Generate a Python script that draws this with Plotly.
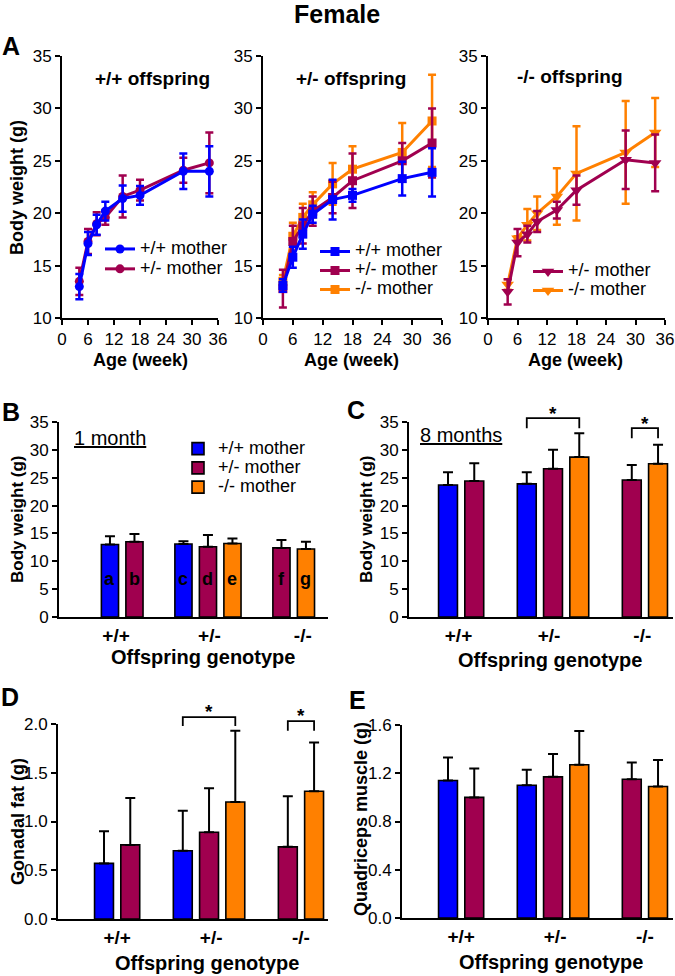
import plotly.graph_objects as go

W, H = 675, 976
FONT = "Liberation Sans, Arial, Helvetica, sans-serif"
BLUE, PURPLE, ORANGE = "#0000FF", "#A0004F", "#FF8000"

# ---------------- Panel A data (body weight over age) ----------------
weeks = [4, 6, 8, 10, 14, 18, 28, 34]

a1_wt_mean = [13.0, 17.1, 18.9, 20.2, 21.4, 21.7, 24.0, 24.0]
a1_wt_err = [1.2, 1.1, 0.95, 0.9, 1.25, 0.9, 1.7, 2.4]
a1_het_mean = [13.5, 17.3, 19.0, 19.6, 21.6, 22.2, 24.1, 24.8]
a1_het_err = [1.3, 1.2, 1.1, 0.7, 2.0, 1.0, 1.2, 2.9]

a2_wt_mean = [13.1, 15.8, 18.0, 19.9, 21.3, 21.7, 23.3, 23.9]
a2_wt_err = [0.6, 1.0, 1.4, 0.8, 1.9, 0.6, 1.6, 2.3]
a2_het_mean = [12.8, 17.3, 18.8, 20.2, 21.5, 23.1, 25.0, 26.7]
a2_het_err = [1.8, 1.5, 1.7, 1.4, 1.5, 2.6, 1.7, 3.3]
a2_ko_mean = [13.5, 17.8, 19.6, 20.8, 22.8, 24.2, 25.8, 28.8]
a2_ko_err = [0.6, 1.3, 1.3, 1.2, 2.0, 2.2, 2.8, 4.4]

a3_het_mean = [12.5, 17.2, 18.0, 19.2, 20.3, 22.2, 25.1, 24.8]
a3_het_err = [1.2, 1.3, 0.8, 1.0, 0.8, 1.4, 2.8, 2.7]
a3_ko_mean = [13.2, 17.6, 18.9, 20.0, 21.6, 23.8, 25.8, 27.7]
a3_ko_err = [0.5, 0.2, 1.5, 1.6, 2.7, 4.5, 4.9, 3.3]

age_ticks = [0, 6, 12, 18, 24, 30, 36]

# ---------------- Bar panels (B-E) ----------------
genotypes = ["+/+", "+/-", "-/-"]
mother_names = ["+/+ mother", "+/- mother", "-/- mother"]

# B: body weight at 1 month
b_wt_mean = [13.0, 13.1, None]
b_wt_err = [1.5, 0.5, None]
b_het_mean = [13.5, 12.6, 12.4]
b_het_err = [1.4, 2.1, 1.4]
b_ko_mean = [None, 13.2, 12.2]
b_ko_err = [None, 0.9, 1.3]
b_wt_letters = ["a", "c", None]
b_het_letters = ["b", "d", "f"]
b_ko_letters = [None, "e", "g"]

# C: body weight at 8 months
c_wt_mean = [23.7, 23.9, None]
c_wt_err = [2.3, 2.1, None]
c_het_mean = [24.4, 26.6, 24.6]
c_het_err = [3.2, 3.4, 2.7]
c_ko_mean = [None, 28.7, 27.5]
c_ko_err = [None, 4.3, 3.4]

# D: gonadal fat
d_wt_mean = [0.57, 0.70, None]
d_wt_err = [0.33, 0.41, None]
d_het_mean = [0.76, 0.89, 0.74]
d_het_err = [0.48, 0.45, 0.52]
d_ko_mean = [None, 1.20, 1.31]
d_ko_err = [None, 0.73, 0.50]

# E: quadriceps muscle
e_wt_mean = [1.14, 1.10, None]
e_wt_err = [0.19, 0.13, None]
e_het_mean = [1.00, 1.17, 1.15]
e_het_err = [0.24, 0.19, 0.14]
e_ko_mean = [None, 1.27, 1.09]
e_ko_err = [None, 0.28, 0.22]

# significance comparisons: (genotype index, mother index a, mother index b)
sig_pairs = [(1, 0, 2), (2, 1, 2)]

# ---------------- helpers ----------------
def dx(x0, x1):
    return [x0 / W, x1 / W]

def dy(ytop, ybot):
    return [1 - ybot / H, 1 - ytop / H]

def slot(g, m):
    return 1 + 3 * g + m

fig = go.Figure()
annotations = []
shapes = []

def ann(text, x, y, size, bold=False, angle=0, xanchor="center", yanchor="middle", **kw):
    annotations.append(dict(
        text=("<b>%s</b>" % text) if bold else text, x=x / W, y=1 - y / H,
        xref="paper", yref="paper", showarrow=False, textangle=angle,
        xanchor=xanchor, yanchor=yanchor,
        font=dict(family=FONT, size=size, color="black"), **kw))

def legname(name, size=18):
    return '<span style="font-size:%dpx">%s</span>' % (size, name)

# ---------------- Panel A line traces ----------------
a_sets = [
    ("x", "y", "legend", [(a1_het_mean, a1_het_err, PURPLE, 1), (a1_wt_mean, a1_wt_err, BLUE, 0)], "circle", 9),
    ("x2", "y2", "legend2", [(a2_ko_mean, a2_ko_err, ORANGE, 2), (a2_het_mean, a2_het_err, PURPLE, 1),
                            (a2_wt_mean, a2_wt_err, BLUE, 0)], "square", 9),
    ("x3", "y3", "legend3", [(a3_ko_mean, a3_ko_err, ORANGE, 2), (a3_het_mean, a3_het_err, PURPLE, 1)], "triangle-down", 11),
]
for xa, ya, leg, series, sym, msize in a_sets:
    for mean, err, col, mi in series:
        fig.add_trace(go.Scatter(
            x=weeks, y=mean, xaxis=xa, yaxis=ya, mode="lines+markers",
            name=legname(mother_names[mi]), legend=leg, legendrank=mi + 1,
            line=dict(color=col, width=3),
            marker=dict(symbol=sym, size=msize, color=col),
            error_y=dict(type="data", array=err, visible=True, color=col, thickness=2.5, width=4),
            hoverinfo="skip"))

# ---------------- Bar traces ----------------
bar_sets = [
    ("x4", "y4", [(b_wt_mean, b_wt_err), (b_het_mean, b_het_err), (b_ko_mean, b_ko_err)], 0.70, True),
    ("x5", "y5", [(c_wt_mean, c_wt_err), (c_het_mean, c_het_err), (c_ko_mean, c_ko_err)], 0.72, False),
    ("x6", "y6", [(d_wt_mean, d_wt_err), (d_het_mean, d_het_err), (d_ko_mean, d_ko_err)], 0.72, False),
    ("x7", "y7", [(e_wt_mean, e_wt_err), (e_het_mean, e_het_err), (e_ko_mean, e_ko_err)], 0.72, False),
]
colors = [BLUE, PURPLE, ORANGE]
for xa, ya, series, bw, showleg in bar_sets:
    for mi, (mean, err) in enumerate(series):
        xs = [slot(g, mi) for g in range(len(genotypes))]
        fig.add_trace(go.Bar(
            x=xs, y=mean, xaxis=xa, yaxis=ya, width=bw,
            name=legname(mother_names[mi]), legend="legend4", showlegend=showleg,
            marker=dict(color=colors[mi], line=dict(color="black", width=1.6)),
            error_y=dict(type="data", array=err, arrayminus=[0] * len(err), symmetric=False,
                         visible=True, color="black", thickness=2, width=5),
            hoverinfo="skip"))

# letters inside B bars
for mi, letters in enumerate([b_wt_letters, b_het_letters, b_ko_letters]):
    for g, lt in enumerate(letters):
        if lt:
            annotations.append(dict(text="<b>%s</b>" % lt, x=slot(g, mi), y=6.8, xref="x4", yref="y4",
                                    showarrow=False, font=dict(family=FONT, size=18, color="black")))

# significance brackets in C and D (y given in data units, placed via axis-domain fraction)
bracket_style = {
    ("x5", "y5", 35.0): [(35.7, 33.9, 38.8), (33.9, 32.1, 36.9)],
    ("x6", "y6", 2.0): [(2.07, 1.98, 2.26), (2.03, 1.93, 2.22)],
}
for (xa, ya, ymax), levels in bracket_style.items():
    for (g, ma, mb), (top, leg, star_y) in zip(sig_pairs, levels):
        x1, x2 = slot(g, ma), slot(g, mb)
        t, l = top / ymax, leg / ymax
        shapes.append(dict(type="path", xref=xa, yref=ya + " domain",
                           path="M %s,%s L %s,%s L %s,%s L %s,%s" % (x1, l, x1, t, x2, t, x2, l),
                           line=dict(color="black", width=1.8)))
        annotations.append(dict(text="<b>*</b>", x=(x1 + x2) / 2, y=star_y / ymax, xref=xa,
                                yref=ya + " domain", showarrow=False,
                                font=dict(family=FONT, size=19, color="black")))

# ---------------- Axes ----------------
axline = dict(showline=True, linecolor="black", linewidth=2, showgrid=False, zeroline=False,
              ticks="outside", ticklen=5, tickwidth=2, tickcolor="black", automargin=False,
              tickfont=dict(family=FONT, size=17, color="black"))

layout = dict(
    width=W, height=H, margin=dict(l=0, r=0, t=0, b=0, pad=0, autoexpand=False),
    paper_bgcolor="white", plot_bgcolor="white", barmode="overlay", showlegend=True,
    font=dict(family=FONT, color="black"),
)

a_dom = [(62, 218), (263, 442), (488, 665)]
for i, (x0, x1) in enumerate(a_dom):
    sfx = "" if i == 0 else str(i + 1)
    layout["xaxis" + sfx] = dict(axline, domain=dx(x0, x1), range=[0, 36], tickvals=age_ticks,
                                 anchor="y" + sfx)
    layout["yaxis" + sfx] = dict(axline, domain=dy(56, 318), range=[10, 35], dtick=5,
                                 anchor="x" + sfx)

bar_axes = [
    (4, (59, 328), (422, 617), [-1.08, 9.90], [0, 35], 5, "d", [1.25, 5.06, 8.87]),
    (5, (409, 673), (422, 617), [-0.486, 9.57], [0, 35], 5, "d", [1.4, 4.85, 8.4]),
    (6, (58, 328), (724, 919), [-0.752, 9.53], [0, 2.0], 0.5, ".1f", [1.5, 5.08, 8.5]),
    (7, (402, 673), (725, 918), [-0.752, 9.57], [0, 1.6], 0.4, ".1f", [1.5, 5.08, 8.5]),
]
for n, (x0, x1), (yt, yb), xr, yr, dt, fmt, tv in bar_axes:
    layout["xaxis%d" % n] = dict(axline, domain=dx(x0, x1), range=xr, anchor="y%d" % n,
                                 tickvals=tv, ticktext=["<b>%s</b>" % g for g in genotypes],
                                 ticks="", tickfont=dict(family=FONT, size=19, color="black"),
                                 ticklabelstandoff=0)
    layout["yaxis%d" % n] = dict(axline, domain=dy(yt, yb), range=yr, dtick=dt, tickformat=fmt,
                                 anchor="x%d" % n)

# ---------------- Legends ----------------
def legend_at(xpx, ypx, fsize):
    return dict(x=xpx / W, y=1 - ypx / H, xanchor="left", yanchor="top", bgcolor="rgba(0,0,0,0)",
                borderwidth=0, tracegroupgap=0, itemwidth=30, traceorder="normal",
                font=dict(family=FONT, size=fsize, color="black"))

layout["legend"] = legend_at(100, 234, 13)
layout["legend2"] = legend_at(315, 237, 11.2)
layout["legend3"] = legend_at(528, 257, 11.5)
layout["legend4"] = legend_at(178, 434, 12.5)

# ---------------- Text ----------------
ann("Female", 337, 14, 25, bold=True)
for lt, x, y in [("A", 11, 46), ("B", 11, 412), ("C", 356, 410), ("D", 10, 697), ("E", 357, 700)]:
    ann(lt, x, y, 25, bold=True)

ann("+/+ offspring", 152, 78, 19, bold=True)
ann("+/- offspring", 351, 78, 19, bold=True)
ann("-/- offspring", 570, 76, 19, bold=True)

ann("Body weight (g)", 17, 188, 18, bold=True, angle=-90)
for x in [140, 352, 575]:
    ann("Age (week)", x, 360, 18, bold=True)

ann("Body weight (g)", 17, 520, 17, bold=True, angle=-90)
ann("Body weight (g)", 366, 520, 17, bold=True, angle=-90)
ann("Gonadal fat (g)", 18, 822, 18, bold=True, angle=-90)
ann("Quadriceps muscle (g)", 361, 819, 18, bold=True, angle=-90)

for x, y in [(203, 657), (550, 660), (207, 963), (551, 962)]:
    ann("Offspring genotype", x, y, 20, bold=True)

ann("<u>1 month</u>", 110, 438, 20)
ann("<u>8 months</u>", 461, 435, 20)

layout["annotations"] = annotations
layout["shapes"] = shapes
fig.update_layout(**layout)

# remove the browser's default 8px page margin so the figure sits at the window origin
fig.write_html("out.html", config={"displayModeBar": False},
               post_script="document.body.style.margin='0px';document.body.style.overflow='hidden';")
